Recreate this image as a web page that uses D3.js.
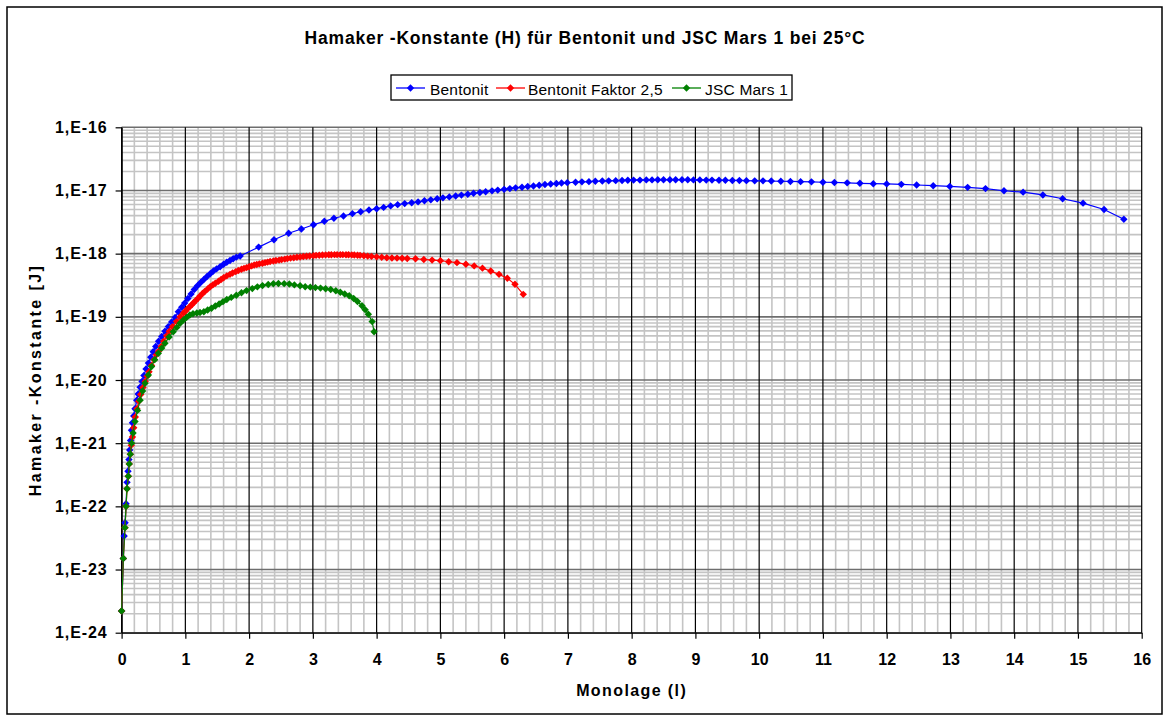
<!DOCTYPE html>
<html><head><meta charset="utf-8">
<script src="https://cdn.jsdelivr.net/npm/d3@7"></script>
<style>
html,body{margin:0;padding:0;background:#fff;}
svg{display:block;font-family:"Liberation Sans",Arial,sans-serif;}
</style></head>
<body>
<svg id="chart" width="1164" height="715"></svg>
<script>
// ---------- data ----------
const title = "Hamaker -Konstante (H) für Bentonit und JSC Mars 1 bei 25°C";
const xTitle = "Monolage (l)";
const yTitle = "Hamaker -Konstante [J]";
const seriesNames = ["Bentonit", "Bentonit Faktor 2,5", "JSC Mars 1"];
const seriesColors = ["#0000FF", "#FF0000", "#008000"];
const xTicks = [0,1,2,3,4,5,6,7,8,9,10,11,12,13,14,15,16];
const yTicks = [1e-24,1e-23,1e-22,1e-21,1e-20,1e-19,1e-18,1e-17,1e-16];

const bentonitX = [0,0.027,0.04,0.055,0.07,0.085,0.10,0.115,0.127,0.14,0.155,0.17,0.19,0.21,0.237,0.26,0.29,0.32,0.35,0.383,0.42,0.457,0.495,0.535,0.58,0.63,0.68,0.733,0.785,0.84,0.89,0.943,0.99,1.04,1.09,1.14,1.19,1.24,1.29,1.34,1.39,1.44,1.49,1.545,1.60,1.65,1.70,1.75,1.80,1.86,
 2.15,2.39,2.62,2.82,3.01,3.18,3.33,3.48,3.62,3.75,3.88,4.00,4.11,4.22,4.33,4.44,4.55,4.65,4.75,4.85,4.95,5.04,5.14,5.24,5.33,5.43,5.52,5.62,5.71,5.81,5.90,6.00,6.09,6.18,6.28,6.37,6.46,6.55,6.64,6.73,6.82,6.90,6.99,7.12,7.22,7.33,7.43,7.54,7.64,7.75,7.85,7.94,8.03,8.13,8.23,8.32,8.41,8.50,8.60,8.69,8.79,8.88,8.97,9.07,9.17,9.26,9.37,9.47,9.58,9.69,9.80,9.93,10.06,10.19,10.34,10.49,10.65,10.82,11.00,11.18,11.38,11.58,11.79,12.00,12.23,12.47,12.73,12.99,13.27,13.55,13.84,14.14,14.45,14.76,15.08,15.41,15.72];
const bentonitY = [2.2e-24,1.5e-23,3.4e-23,5.5e-23,1.1e-22,2.4e-22,3.6e-22,5.5e-22,7.8e-22,1.1e-21,1.6e-21,2.1e-21,2.7e-21,3.5e-21,4.8e-21,6.0e-21,7.7e-21,9.5e-21,1.18e-20,1.5e-20,1.85e-20,2.3e-20,2.8e-20,3.4e-20,4.1e-20,4.9e-20,5.9e-20,7.0e-20,8.3e-20,9.8e-20,1.2e-19,1.42e-19,1.65e-19,1.95e-19,2.3e-19,2.7e-19,3.1e-19,3.5e-19,3.9e-19,4.35e-19,4.8e-19,5.3e-19,5.75e-19,6.2e-19,6.8e-19,7.3e-19,7.8e-19,8.3e-19,8.8e-19,9.2e-19,
 1.27e-18,1.66e-18,2.1e-18,2.46e-18,2.87e-18,3.25e-18,3.63e-18,3.95e-18,4.3e-18,4.6e-18,4.9e-18,5.15e-18,5.4e-18,5.7e-18,5.96e-18,6.2e-18,6.4e-18,6.6e-18,6.86e-18,7.11e-18,7.38e-18,7.64e-18,7.91e-18,8.18e-18,8.45e-18,8.73e-18,9.02e-18,9.29e-18,9.57e-18,9.86e-18,1.014e-17,1.042e-17,1.07e-17,1.1e-17,1.127e-17,1.156e-17,1.18e-17,1.21e-17,1.24e-17,1.265e-17,1.29e-17,1.31e-17,1.33e-17,1.35e-17,1.37e-17,1.38e-17,1.40e-17,1.41e-17,1.42e-17,1.43e-17,1.44e-17,1.45e-17,1.46e-17,1.46e-17,1.47e-17,1.47e-17,1.48e-17,1.48e-17,1.48e-17,1.48e-17,1.48e-17,1.48e-17,1.47e-17,1.47e-17,1.46e-17,1.46e-17,1.45e-17,1.45e-17,1.44e-17,1.44e-17,1.43e-17,1.42e-17,1.42e-17,1.41e-17,1.40e-17,1.39e-17,1.38e-17,1.37e-17,1.35e-17,1.34e-17,1.32e-17,1.30e-17,1.28e-17,1.27e-17,1.25e-17,1.22e-17,1.19e-17,1.16e-17,1.12e-17,1.07e-17,9.9e-18,9.4e-18,8.5e-18,7.4e-18,6.3e-18,5.0e-18,3.5e-18];

const faktorX = [0,0.027,0.053,0.07,0.085,0.105,0.12,0.137,0.152,0.17,0.19,0.215,0.24,0.27,0.30,0.335,0.37,0.40,0.43,0.47,0.51,0.545,0.58,0.62,0.66,0.707,0.75,0.80,0.86,0.917,0.97,1.00,1.03,1.07,1.10,1.13,1.16,1.20,1.23,1.27,1.30,1.35,1.39,1.43,1.47,1.52,1.56,1.60,1.65,1.70,1.74,1.79,1.83,1.88,1.92,1.96,2.00,2.04,2.08,2.12,2.16,2.21,2.25,2.29,2.33,2.38,2.42,2.47,2.51,2.56,2.60,2.65,2.70,2.75,2.80,2.85,2.90,2.95,3.01,3.05,3.10,3.15,3.20,3.25,3.29,3.34,3.38,3.43,3.47,3.52,3.56,3.61,3.65,3.70,3.74,3.80,3.86,3.92,4.00,4.08,4.16,4.24,4.32,4.40,4.48,4.61,4.74,4.87,5.00,5.13,5.26,5.40,5.53,5.66,5.79,5.92,6.05,6.17,6.30];
const faktorY = [2.2e-24,1.5e-23,4.6e-23,1.0e-22,1.9e-22,3.0e-22,4.7e-22,6.7e-22,9.3e-22,1.25e-21,1.75e-21,2.6e-21,3.5e-21,4.6e-21,5.9e-21,7.6e-21,9.5e-21,1.15e-20,1.35e-20,1.7e-20,2.1e-20,2.5e-20,2.85e-20,3.4e-20,4.1e-20,5.0e-20,5.9e-20,7.0e-20,8.4e-20,1.0e-19,1.15e-19,1.22e-19,1.33e-19,1.45e-19,1.55e-19,1.67e-19,1.8e-19,1.97e-19,2.14e-19,2.35e-19,2.5e-19,2.75e-19,3.0e-19,3.2e-19,3.4e-19,3.65e-19,3.9e-19,4.15e-19,4.45e-19,4.7e-19,4.95e-19,5.2e-19,5.4e-19,5.65e-19,5.85e-19,6.0e-19,6.2e-19,6.4e-19,6.6e-19,6.75e-19,6.9e-19,7.05e-19,7.2e-19,7.35e-19,7.5e-19,7.65e-19,7.8e-19,7.9e-19,8.05e-19,8.2e-19,8.35e-19,8.5e-19,8.6e-19,8.75e-19,8.85e-19,9.0e-19,9.1e-19,9.2e-19,9.3e-19,9.4e-19,9.45e-19,9.5e-19,9.55e-19,9.6e-19,9.6e-19,9.65e-19,9.65e-19,9.65e-19,9.65e-19,9.6e-19,9.6e-19,9.55e-19,9.5e-19,9.45e-19,9.4e-19,9.25e-19,9.15e-19,9.05e-19,8.9e-19,8.75e-19,8.6e-19,8.55e-19,8.5e-19,8.45e-19,8.4e-19,8.3e-19,8.1e-19,7.9e-19,7.75e-19,7.45e-19,7.2e-19,6.8e-19,6.4e-19,5.9e-19,5.3e-19,4.7e-19,4.07e-19,3.27e-19,2.27e-19];

const marsX = [0,0.027,0.053,0.07,0.085,0.105,0.12,0.137,0.158,0.18,0.21,0.25,0.29,0.33,0.367,0.42,0.47,0.52,0.576,0.63,0.68,0.745,0.81,0.865,0.917,0.97,1.02,1.07,1.12,1.18,1.23,1.29,1.35,1.41,1.47,1.53,1.59,1.65,1.72,1.80,1.88,1.96,2.05,2.13,2.21,2.30,2.38,2.46,2.55,2.63,2.71,2.80,2.88,2.96,3.04,3.12,3.20,3.28,3.36,3.43,3.50,3.57,3.64,3.70,3.77,3.82,3.87,3.93,3.96];
const marsY = [2.2e-24,1.5e-23,4.6e-23,1.0e-22,1.9e-22,3.0e-22,4.7e-22,6.7e-22,1.0e-21,1.45e-21,2.2e-21,3.3e-21,4.8e-21,6.7e-21,8.9e-21,1.2e-20,1.63e-20,2.1e-20,2.65e-20,3.2e-20,3.8e-20,4.8e-20,5.8e-20,6.8e-20,7.9e-20,8.9e-20,9.8e-20,1.07e-19,1.12e-19,1.15e-19,1.17e-19,1.2e-19,1.28e-19,1.37e-19,1.48e-19,1.6e-19,1.74e-19,1.88e-19,2.03e-19,2.2e-19,2.4e-19,2.6e-19,2.8e-19,2.98e-19,3.12e-19,3.25e-19,3.33e-19,3.36e-19,3.35e-19,3.3e-19,3.2e-19,3.1e-19,3.0e-19,2.95e-19,2.9e-19,2.85e-19,2.78e-19,2.7e-19,2.58e-19,2.45e-19,2.3e-19,2.15e-19,1.95e-19,1.75e-19,1.5e-19,1.3e-19,1.1e-19,8.4e-20,5.8e-20];

// ---------- drawing ----------
const svg = d3.select("#chart");
const W = 1164, H = 715;
const L = 121.6, R = 1141.7, T = 127.3, B = 632.7;
const x = d3.scaleLinear().domain([0,16]).range([L,R]);
const y = d3.scaleLog().domain([1e-24,1e-16]).range([B,T]);

svg.append("rect").attr("width",W).attr("height",H).attr("fill","#fff");
svg.append("rect").attr("x",7).attr("y",7).attr("width",1155).attr("height",707)
  .attr("fill","none").attr("stroke","#000").attr("stroke-width",1.5);

const grid = svg.append("g");
// minor vertical
const minorX = d3.range(0,80).map(i=>i*0.2).filter((v,i)=>i%5!==0);
grid.selectAll("line.mvx").data(minorX).enter().append("line")
  .attr("x1",d=>x(d)).attr("x2",d=>x(d)).attr("y1",T).attr("y2",B)
  .attr("stroke","#c4c4c4").attr("stroke-width",1.6);
// minor horizontal
const minorY = [];
yTicks.slice(0,-1).forEach(t=>{for(let m=2;m<=9;m++) minorY.push(t*m);});
grid.selectAll("line.mhy").data(minorY).enter().append("line")
  .attr("x1",L).attr("x2",R).attr("y1",d=>y(d)).attr("y2",d=>y(d))
  .attr("stroke","#c4c4c4").attr("stroke-width",1.6);
// major horizontal
grid.selectAll("line.Mhy").data(yTicks).enter().append("line")
  .attr("x1",L).attr("x2",R).attr("y1",d=>y(d)).attr("y2",d=>y(d))
  .attr("stroke","#6e6e6e").attr("stroke-width",1.6);
// major vertical
grid.selectAll("line.Mvx").data(xTicks).enter().append("line")
  .attr("x1",d=>x(d)).attr("x2",d=>x(d)).attr("y1",T).attr("y2",B)
  .attr("stroke","#000").attr("stroke-width",1.2);

// axes
const yAxis = d3.axisLeft(y).tickValues(yTicks).tickSize(6).tickSizeOuter(0).tickPadding(8)
  .tickFormat(d=>"1,E" + Math.round(Math.log10(d)));
const gy = svg.append("g").attr("transform",`translate(${L},0)`).call(yAxis);
const xAxis = d3.axisBottom(x).tickValues(xTicks).tickSize(6).tickSizeOuter(0).tickFormat(d3.format("d"));
const gx = svg.append("g").attr("transform",`translate(0,${B})`).call(xAxis);
[gx,gy].forEach(g=>{
  g.select(".domain").attr("stroke","#000").attr("stroke-width",1.3);
  g.selectAll(".tick line").attr("stroke","#000").attr("stroke-width",1.2);
  g.selectAll("text").attr("font-family","Liberation Sans, Arial, sans-serif")
    .attr("font-size",16).attr("font-weight","bold").attr("fill","#000");
});
gy.selectAll("text").attr("letter-spacing","0.9px");
gx.selectAll("text").attr("y",32).attr("dy",0);

// series
const diamond = "M0,-3.7L3.7,0L0,3.7L-3.7,0Z";
const series = [
  {name:seriesNames[0], color:seriesColors[0], xs:bentonitX, ys:bentonitY},
  {name:seriesNames[1], color:seriesColors[1], xs:faktorX, ys:faktorY},
  {name:seriesNames[2], color:seriesColors[2], xs:marsX, ys:marsY}
];
const line = d3.line().x(d=>x(d[0])).y(d=>y(d[1]));
series.forEach(s=>{
  const pts = s.xs.map((v,i)=>[v,s.ys[i]]);
  const g = svg.append("g");
  g.append("path").datum(pts).attr("d",line).attr("fill","none")
    .attr("stroke",s.color).attr("stroke-width",1.2);
  g.selectAll("path.m").data(pts).enter().append("path")
    .attr("d",diamond).attr("transform",d=>`translate(${x(d[0])},${y(d[1])})`)
    .attr("fill",s.color);
});

// title
svg.append("text").attr("x",585).attr("y",43.5).attr("text-anchor","middle")
  .attr("font-size",17.5).attr("font-weight","bold").attr("letter-spacing","0.8px").text(title);
// axis titles
svg.append("text").attr("x",(L+R)/2).attr("y",696).attr("text-anchor","middle")
  .attr("font-size",16).attr("font-weight","bold").attr("letter-spacing","1.4px").text(xTitle);
svg.append("text").attr("transform",`translate(41,${(T+B)/2}) rotate(-90)`).attr("text-anchor","middle")
  .attr("font-size",16).attr("font-weight","bold").attr("letter-spacing","2.4px").text(yTitle);

// legend
const lg = svg.append("g");
lg.append("rect").attr("x",391).attr("y",75).attr("width",401).attr("height",25)
  .attr("fill","#fff").attr("stroke","#000").attr("stroke-width",1.3);
const legendPos = [[396,430],[496,528],[672,705]];
series.forEach((s,i)=>{
  const [lx,tx] = legendPos[i];
  lg.append("line").attr("x1",lx).attr("x2",lx+29).attr("y1",88).attr("y2",88)
    .attr("stroke",s.color).attr("stroke-width",1.3);
  lg.append("path").attr("d",diamond).attr("transform",`translate(${lx+14.5},88)`).attr("fill",s.color);
  lg.append("text").attr("x",tx).attr("y",95).attr("font-size",15.5).attr("letter-spacing","0.2px").text(s.name);
});
</script>
</body></html>
